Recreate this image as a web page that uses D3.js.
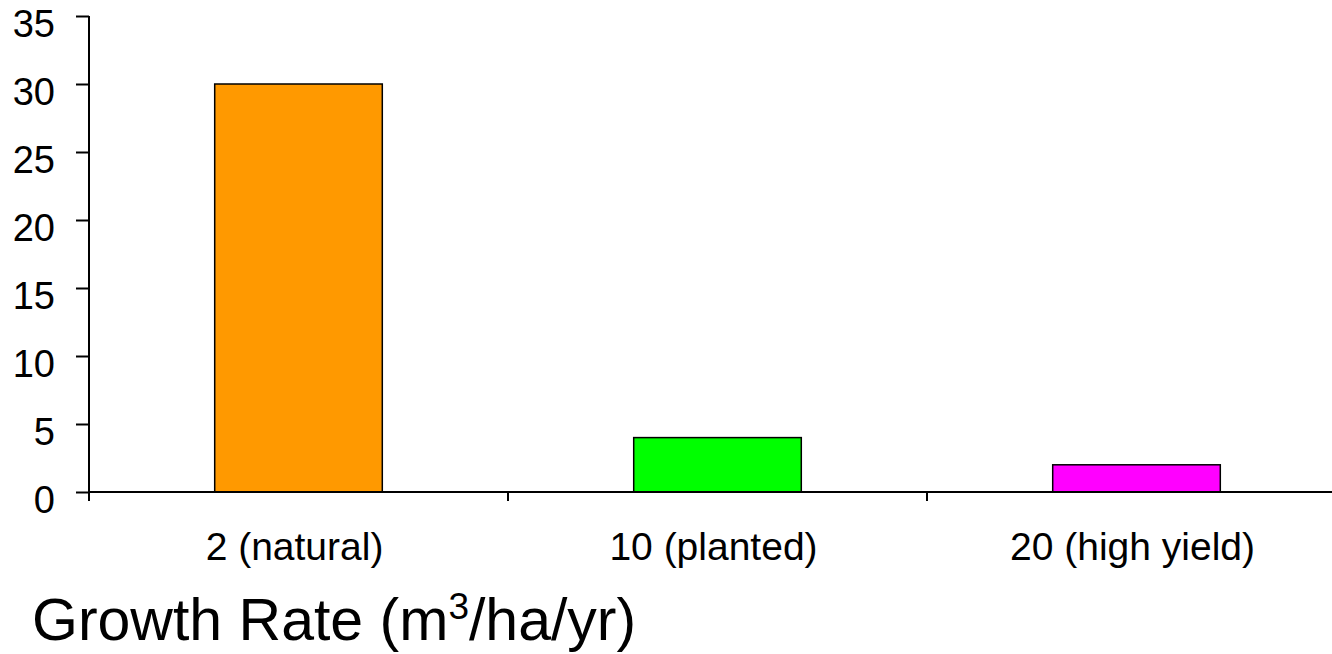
<!DOCTYPE html>
<html>
<head>
<meta charset="utf-8">
<script src="https://cdn.jsdelivr.net/npm/d3@7/dist/d3.min.js"></script>
<style>
  html, body { margin: 0; padding: 0; background: #fff; }
  svg { display: block; font-family: Arial, "Liberation Sans", sans-serif; }
</style>
</head>
<body>
<svg id="chart" width="1332" height="654"></svg>
<script>
const categories = ["2 (natural)", "10 (planted)", "20 (high yield)"];
const values = [30, 4, 2];
const barColors = ["#FF9900", "#00FF00", "#FF00FF"];
const yTicks = [0, 5, 10, 15, 20, 25, 30, 35];

const svg = d3.select("#chart");
const x0 = 89, x1 = 1346, yBottom = 492, yTop = 16;

const x = d3.scaleBand().domain(categories).range([x0, x1]).padding(0);
const y = d3.scaleLinear().domain([0, 35]).range([yBottom, yTop]);

// bars
const barW = x.bandwidth() * 0.4;
svg.append("g").selectAll("rect").data(categories).join("rect")
  .attr("x", (d) => x(d) + (x.bandwidth() - barW) / 2)
  .attr("y", (d, i) => y(values[i]))
  .attr("width", barW)
  .attr("height", (d, i) => y(0) - y(values[i]))
  .attr("fill", (d, i) => barColors[i])
  .attr("stroke", "#000")
  .attr("stroke-width", 1.5);

// y axis
const yAxis = d3.axisLeft(y).tickValues(yTicks).tickSize(13).tickPadding(21);
const gy = svg.append("g").attr("transform", `translate(${x0},0)`).call(yAxis);
gy.select(".domain").attr("stroke", "#000").attr("stroke-width", 2).attr("d", `M0,${yTop}V${yBottom + 9}`);
gy.selectAll(".tick line").attr("stroke", "#000").attr("stroke-width", 2);
gy.selectAll(".tick text").attr("font-size", 38).attr("fill", "#000")
  .attr("y", 7).attr("dy", "0.36em")
  .attr("font-family", "Arial, 'Liberation Sans', sans-serif");

// x axis
const gx = svg.append("g").attr("transform", `translate(0,${yBottom})`);
gx.append("line").attr("x1", x0).attr("x2", x1).attr("y1", 0).attr("y2", 0)
  .attr("stroke", "#000").attr("stroke-width", 2);
const boundaries = categories.map((c) => x(c)).concat([x1]);
gx.selectAll(".xt").data(boundaries).join("line").attr("class", "xt")
  .attr("x1", (d) => d).attr("x2", (d) => d).attr("y1", 0).attr("y2", 9)
  .attr("stroke", "#000").attr("stroke-width", 2);
gx.selectAll(".xl").data(categories).join("text").attr("class", "xl")
  .attr("x", (d) => x(d) + x.bandwidth() / 2 - 4)
  .attr("y", 68)
  .attr("text-anchor", "middle")
  .attr("font-size", 39)
  .attr("fill", "#000")
  .text((d) => d);

// axis title
const title = svg.append("text").attr("x", 32).attr("y", 640).attr("font-size", 59).attr("fill", "#000");
title.append("tspan").text("Growth Rate (m");
title.append("tspan").attr("font-size", 37).attr("dy", -21).text("3");
title.append("tspan").attr("dy", 21).text("/ha/yr)");
</script>
</body>
</html>
